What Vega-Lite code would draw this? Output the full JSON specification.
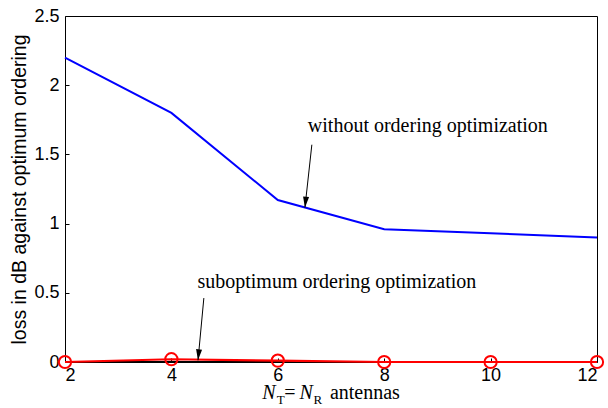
{
  "$schema": "https://vega.github.io/schema/vega-lite/v6.json",
  "width": 532,
  "height": 346,
  "autosize": "none",
  "padding": {"left": 65, "top": 16, "right": 11, "bottom": 46},
  "background": "white",
  "config": {
    "view": {"stroke": "black", "strokeWidth": 1},
    "axis": {
      "domain": false,
      "grid": false,
      "tickColor": "black",
      "tickSize": -4,
      "labelFont": "Liberation Sans",
      "labelFontSize": 18,
      "labelColor": "black",
      "titleFont": "Liberation Sans",
      "titleFontSize": 19.5,
      "titleFontWeight": "normal",
      "titleColor": "black"
    }
  },
  "datasets": {
    "curves": [
      {"n": 2, "loss": 0, "series": "optimum"},
      {"n": 4, "loss": 0, "series": "optimum"},
      {"n": 6, "loss": 0, "series": "optimum"},
      {"n": 8, "loss": 0, "series": "optimum"},
      {"n": 10, "loss": 0, "series": "optimum"},
      {"n": 12, "loss": 0, "series": "optimum"},
      {"n": 2, "loss": 2.2, "series": "without"},
      {"n": 4, "loss": 1.8, "series": "without"},
      {"n": 6, "loss": 1.17, "series": "without"},
      {"n": 8, "loss": 0.96, "series": "without"},
      {"n": 10, "loss": 0.93, "series": "without"},
      {"n": 12, "loss": 0.9, "series": "without"},
      {"n": 2, "loss": 0, "series": "suboptimum"},
      {"n": 4, "loss": 0.02, "series": "suboptimum"},
      {"n": 6, "loss": 0.01, "series": "suboptimum"},
      {"n": 8, "loss": 0, "series": "suboptimum"},
      {"n": 10, "loss": 0, "series": "suboptimum"},
      {"n": 12, "loss": 0, "series": "suboptimum"}
    ],
    "notes": [
      {"label": "without ordering optimization", "tx": 8.82, "ty": 1.66, "x1": 6.64, "y1": 1.57, "x2": 6.51, "y2": 1.115, "ang": 6},
      {"label": "suboptimum ordering optimization", "tx": 7.11, "ty": 0.535, "x1": 4.61, "y1": 0.462, "x2": 4.5, "y2": 0.012, "ang": 5.5}
    ],
    "one": [{}]
  },
  "layer": [
    {
      "data": {"name": "curves"},
      "transform": [{"filter": "datum.series !== 'suboptimum'"}],
      "mark": {"type": "line", "strokeWidth": 2},
      "encoding": {
        "x": {
          "field": "n", "type": "quantitative",
          "scale": {"domain": [2, 12], "nice": false},
          "axis": {"values": [2, 4, 6, 8, 10, 12], "title": null, "labelPadding": 8, "labelFontSize": 18}
        },
        "y": {
          "field": "loss", "type": "quantitative",
          "scale": {"domain": [0, 2.5], "nice": false},
          "axis": {"values": [0, 0.5, 1, 1.5, 2, 2.5], "format": "~g", "title": "loss in dB against optimum ordering", "labelPadding": 10, "labelFontSize": 18, "titlePadding": 4}
        },
        "color": {
          "field": "series", "type": "nominal",
          "scale": {"domain": ["optimum", "without", "suboptimum"], "range": ["black", "#0000ff", "#ff0000"]},
          "legend": null
        },
        "detail": {"field": "series"}
      }
    },
    {
      "data": {"name": "curves"},
      "transform": [{"filter": "datum.series === 'suboptimum'"}],
      "mark": {"type": "line", "strokeWidth": 2.2, "color": "#ff0000"},
      "encoding": {
        "x": {"field": "n", "type": "quantitative"},
        "y": {"field": "loss", "type": "quantitative"}
      }
    },
    {
      "data": {"name": "curves"},
      "transform": [{"filter": "datum.series === 'suboptimum'"}],
      "mark": {"type": "point", "shape": "circle", "filled": false, "size": 150, "strokeWidth": 2, "color": "#ff0000", "clip": false, "opacity": 1},
      "encoding": {
        "x": {"field": "n", "type": "quantitative"},
        "y": {"field": "loss", "type": "quantitative"}
      }
    },
    {
      "data": {"name": "notes"},
      "mark": {"type": "text", "font": "Liberation Serif", "fontSize": 20, "color": "black", "align": "center", "baseline": "alphabetic"},
      "encoding": {
        "x": {"field": "tx", "type": "quantitative"},
        "y": {"field": "ty", "type": "quantitative"},
        "text": {"field": "label"}
      }
    },
    {
      "data": {"name": "notes"},
      "mark": {"type": "rule", "color": "black", "strokeWidth": 1},
      "encoding": {
        "x": {"field": "x1", "type": "quantitative"},
        "y": {"field": "y1", "type": "quantitative"},
        "x2": {"field": "x2"},
        "y2": {"field": "y2"}
      }
    },
    {
      "data": {"name": "notes"},
      "mark": {"type": "point", "shape": "M0,0L-0.6,-2.2L0.6,-2.2Z", "filled": true, "size": 100, "color": "black", "opacity": 1},
      "encoding": {
        "x": {"field": "x2", "type": "quantitative"},
        "y": {"field": "y2", "type": "quantitative"},
        "angle": {"field": "ang", "type": "quantitative", "scale": null}
      }
    },
    {
      "data": {"name": "one"},
      "mark": {"type": "text", "font": "Liberation Serif", "fontSize": 20, "fontStyle": "italic", "align": "left", "baseline": "alphabetic", "color": "black", "clip": false},
      "encoding": {
        "x": {"datum": 5.71},
        "y": {"datum": -0.27},
        "text": {"value": "N"}
      }
    },
    {
      "data": {"name": "one"},
      "mark": {"type": "text", "font": "Liberation Serif", "fontSize": 13, "align": "left", "baseline": "alphabetic", "color": "black", "clip": false},
      "encoding": {
        "x": {"datum": 5.98},
        "y": {"datum": -0.3},
        "text": {"value": "T"}
      }
    },
    {
      "data": {"name": "one"},
      "mark": {"type": "text", "font": "Liberation Serif", "fontSize": 20, "align": "left", "baseline": "alphabetic", "color": "black", "clip": false},
      "encoding": {
        "x": {"datum": 6.12},
        "y": {"datum": -0.27},
        "text": {"value": "="}
      }
    },
    {
      "data": {"name": "one"},
      "mark": {"type": "text", "font": "Liberation Serif", "fontSize": 20, "fontStyle": "italic", "align": "left", "baseline": "alphabetic", "color": "black", "clip": false},
      "encoding": {
        "x": {"datum": 6.41},
        "y": {"datum": -0.27},
        "text": {"value": "N"}
      }
    },
    {
      "data": {"name": "one"},
      "mark": {"type": "text", "font": "Liberation Serif", "fontSize": 13, "align": "left", "baseline": "alphabetic", "color": "black", "clip": false},
      "encoding": {
        "x": {"datum": 6.67},
        "y": {"datum": -0.3},
        "text": {"value": "R"}
      }
    },
    {
      "data": {"name": "one"},
      "mark": {"type": "text", "font": "Liberation Serif", "fontSize": 20, "align": "left", "baseline": "alphabetic", "color": "black", "clip": false},
      "encoding": {
        "x": {"datum": 6.98},
        "y": {"datum": -0.27},
        "text": {"value": "antennas"}
      }
    }
  ]
}
